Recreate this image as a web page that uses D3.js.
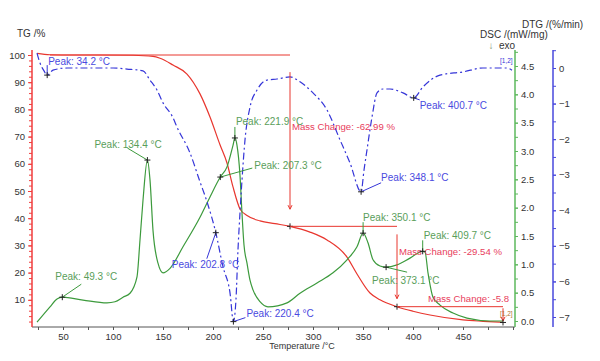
<!DOCTYPE html>
<html>
<head>
<meta charset="utf-8">
<script src="https://cdn.jsdelivr.net/npm/d3@7/dist/d3.min.js"></script>
<style>
  body { margin: 0; background: #fff; }
  svg { font-family: Arial, "Liberation Sans", sans-serif; }
  .tick text { fill: #333; font-size: 9.5px; }
</style>
</head>
<body>
<div id="chart"></div>
<script>

// TG curve (mass %, vs temperature °C)
const tgTemps  = [24, 37, 60, 87, 120, 140, 147, 160, 174, 187, 197, 207, 214, 220, 227, 234, 247, 262, 277, 297, 314, 334, 344, 357, 367, 384, 400, 417, 450, 470, 490];
const tgValues = [100.6, 100.1, 100.0, 100.0, 99.9, 99.5, 98.8, 96.3, 93.0, 85.7, 77.2, 67.0, 60.3, 51.5, 43.4, 41.0, 39.0, 38.0, 37.0, 34.9, 32.0, 25.7, 19.5, 12.5, 10.0, 7.45, 5.8, 4.4, 2.6, 2.1, 1.7];

// DSC curve (mW/mg)
const dscTemps  = [24, 37, 44, 49.3, 70, 94, 102, 110, 117, 124, 127, 130, 134.4, 137, 140, 145, 150, 157, 170, 187, 197, 207.3, 214, 220, 221.9, 224, 227, 229, 231, 234, 237, 240, 247, 255, 274, 287, 304, 320, 334, 344, 350.1, 355, 360, 367, 373.1, 384, 397, 409.7, 412, 415, 420, 427, 440, 454, 477, 490];
const dscValues = [-0.02, 0.25, 0.39, 0.42, 0.37, 0.32, 0.34, 0.42, 0.49, 0.78, 1.43, 2.13, 2.84, 2.49, 1.6, 1.02, 0.85, 0.93, 1.31, 1.83, 2.19, 2.54, 2.72, 3.10, 3.23, 3.1, 2.57, 1.9, 1.34, 1.02, 0.72, 0.55, 0.34, 0.25, 0.32, 0.49, 0.67, 0.85, 1.08, 1.31, 1.55, 1.38, 1.08, 0.97, 0.95, 0.99, 1.11, 1.23, 1.22, 0.85, 0.42, 0.28, 0.14, 0.05, 0.0, 0.0];

// DTG curve (%/min)
const dtgTemps  = [24, 27, 31, 34.2, 40, 54, 74, 100, 114, 130, 137, 144, 150, 160, 164, 177, 187, 194, 202.8, 210, 217, 220.4, 223, 225, 227, 229, 232, 237, 244, 254, 264, 277, 287, 300, 314, 327, 337, 348.1, 351, 354, 359, 364, 370, 377, 390, 400.7, 410, 427, 450, 470, 494, 499];
const dtgValues = [0.42, 0.14, -0.08, -0.2, -0.06, 0, 0, 0, -0.03, -0.08, -0.34, -0.62, -0.98, -1.4, -1.66, -2.39, -3.2, -3.76, -4.63, -5.59, -6.32, -7.13, -6.5, -5.1, -4.07, -3.15, -2.02, -1.1, -0.62, -0.34, -0.31, -0.25, -0.39, -0.7, -1.18, -2.02, -2.67, -3.48, -2.87, -2.3, -1.38, -0.7, -0.59, -0.59, -0.7, -0.84, -0.53, -0.2, -0.11, 0, 0, -0.06];

// peaks
const dscPeakTemps  = [49.3, 134.4, 207.3, 221.9, 350.1, 373.1, 409.7];
const dscPeakValues = [0.42, 2.84, 2.54, 3.23, 1.55, 0.95, 1.23];
const dtgPeakTemps  = [34.2, 202.8, 220.4, 348.1, 400.7];
const dtgPeakValues = [-0.2, -4.63, -7.13, -3.48, -0.84];

// mass change steps (last label is cut off by the axis in the original)
const massStepTemps  = [277, 384, 490];
const massLevels     = [100, 37.01, 7.47, 1.67];
const massChangeText = ['Mass Change: -62.99 %', 'Mass Change: -29.54 %', 'Mass Change: -5.8'];

// axis ticks
const tempTicks = [50, 100, 150, 200, 250, 300, 350, 400, 450];
const tgTicks   = [10, 20, 30, 40, 50, 60, 70, 80, 90, 100];
const dscTicks  = [0, 0.5, 1, 1.5, 2, 2.5, 3, 3.5, 4, 4.5];
const dtgTicks  = [-7, -6, -5, -4, -3, -2, -1, 0];

// label layout (offsets from the peak point, px)
const dscLabelPos  = [[-7, -21, 19, -13], [-53, -16, -20, -12], [34, -12, 32, -9], [1, -16, 0, -11], [0, -16, 0, -11], [-14, 13, 21, 5], [1, -16, 0, -11]];
const dtgLabelPos  = [[1, -14, 0, -10], [-44, 32, -9, 26], [13, -8, 12, -4], [20, -14, 20, -9], [6, 8, 6, 2]];
const massLabelPos = [[2, -14], [2, -15], [-75, -8]];

const width = 600;
const height = 361;
const plot = { left: 32, right: 515, top: 50, bottom: 327 };

const colors = {
  tg: '#e8362e',
  tgAxis: '#f03c3c',
  mass: '#e8405c',
  dsc: '#3c9a3c',
  dscText: '#5a9e5a',
  dscAxis: '#5cb85c',
  dtg: '#3535d8',
  dtgText: '#4a4ae0',
  dtgAxis: '#4848dd'
};

const svg = d3.select('#chart')
  .append('svg')
  .attr('width', width)
  .attr('height', height);

const x = d3.scaleLinear().domain([19, 502]).range([plot.left, plot.right]);
const yTG = d3.scaleLinear().domain([0, 100]).range([327, 55]);
const yDSC = d3.scaleLinear().domain([0, 4.5]).range([321, 66]);
const yDTG = d3.scaleLinear().domain([-7, 0]).range([317, 68]);

svg.append('clipPath')
  .attr('id', 'plot-clip')
  .append('rect')
  .attr('x', plot.left)
  .attr('y', plot.top)
  .attr('width', plot.right - plot.left - 1)
  .attr('height', plot.bottom - plot.top);

// Axes

function styleAxis(g, color) {
  g.select('.domain').remove();
  g.selectAll('.tick line').attr('stroke', color);
}

function minorTicks(from, to, step) {
  const out = [];
  for (let v = from; v <= to + 1e-9; v += step) out.push(+v.toFixed(3));
  return out;
}

// bottom
svg.append('g')
  .attr('transform', `translate(0, ${plot.bottom})`)
  .call(d3.axisBottom(x).tickValues(minorTicks(25, 500, 25)).tickSize(3).tickFormat(''))
  .call(styleAxis, '#555');
svg.append('g')
  .attr('transform', `translate(0, ${plot.bottom})`)
  .call(d3.axisBottom(x).tickValues(tempTicks).tickSize(3).tickPadding(3))
  .call(styleAxis, '#555');
svg.append('line')
  .attr('x1', plot.left).attr('x2', plot.right)
  .attr('y1', plot.bottom).attr('y2', plot.bottom)
  .attr('stroke', '#555');

// left TG
svg.append('g')
  .attr('transform', `translate(${plot.left}, 0)`)
  .call(d3.axisLeft(yTG).tickValues(minorTicks(2, 100, 2)).tickSize(3).tickFormat(''))
  .call(styleAxis, colors.tgAxis);
svg.append('g')
  .attr('transform', `translate(${plot.left}, 0)`)
  .call(d3.axisLeft(yTG).tickValues(tgTicks).tickSize(4).tickPadding(3))
  .call(styleAxis, colors.tgAxis);
svg.append('line')
  .attr('x1', plot.left).attr('x2', plot.left)
  .attr('y1', plot.top).attr('y2', plot.bottom)
  .attr('stroke', colors.tgAxis).attr('stroke-width', 1.5);

// right DSC
svg.append('g')
  .attr('transform', `translate(${plot.right}, 0)`)
  .call(d3.axisRight(yDSC).tickValues(minorTicks(0, 4.75, 0.25)).tickSize(3).tickFormat(''))
  .call(styleAxis, colors.dscAxis);
svg.append('g')
  .attr('transform', `translate(${plot.right}, 0)`)
  .call(d3.axisRight(yDSC).tickValues(dscTicks).tickSize(3).tickPadding(3).tickFormat(d3.format('.1f')))
  .call(styleAxis, colors.dscAxis);
svg.append('line')
  .attr('x1', plot.right).attr('x2', plot.right)
  .attr('y1', plot.top).attr('y2', plot.bottom)
  .attr('stroke', colors.dscAxis).attr('stroke-width', 1.5);

// right DTG
const dtgAxisX = 553;
svg.append('g')
  .attr('transform', `translate(${dtgAxisX}, 0)`)
  .call(d3.axisRight(yDTG).tickValues(minorTicks(-7, 0.5, 0.5)).tickSize(3).tickFormat(''))
  .call(styleAxis, colors.dtgAxis);
svg.append('g')
  .attr('transform', `translate(${dtgAxisX}, 0)`)
  .call(d3.axisRight(yDTG).tickValues(dtgTicks).tickSize(3).tickPadding(3).tickFormat(d3.format('d')))
  .call(styleAxis, colors.dtgAxis);
svg.append('line')
  .attr('x1', dtgAxisX).attr('x2', dtgAxisX)
  .attr('y1', plot.top).attr('y2', plot.bottom)
  .attr('stroke', colors.dtgAxis).attr('stroke-width', 1.5);

// Axis titles

function title(txt, xPos, yPos, anchor, size) {
  return svg.append('text')
    .attr('x', xPos).attr('y', yPos)
    .attr('text-anchor', anchor || 'start')
    .attr('dominant-baseline', 'central')
    .attr('font-size', size || 10)
    .attr('fill', '#333')
    .text(txt);
}

title('TG /%', 17, 33);
title('DTG /(%/min)', 522, 24);
title('DSC /(mW/mg)', 480, 34);
title('exo', 499, 45);
title('Temperature /°C', 302, 346, 'middle', 9);
svg.append('text')
  .attr('x', 491).attr('y', 45)
  .attr('text-anchor', 'middle')
  .attr('dominant-baseline', 'central')
  .attr('font-size', 10)
  .attr('fill', '#8a9a7a')
  .text('↓');

// Curves

const curves = svg.append('g').attr('clip-path', 'url(#plot-clip)');

function drawCurve(temps, values, yScale, color, dash) {
  const line = d3.line()
    .x(d => x(d[0]))
    .y(d => yScale(d[1]))
    .curve(d3.curveMonotoneX);
  curves.append('path')
    .datum(d3.zip(temps, values))
    .attr('d', line)
    .attr('fill', 'none')
    .attr('stroke', color)
    .attr('stroke-width', 1.2)
    .attr('stroke-dasharray', dash || null);
}

drawCurve(tgTemps, tgValues, yTG, colors.tg);
drawCurve(dscTemps, dscValues, yDSC, colors.dsc);
drawCurve(dtgTemps, dtgValues, yDTG, colors.dtg, '7,3,2,3');

// Mass change annotations

const ann = svg.append('g').attr('clip-path', 'url(#plot-clip)');

function cross(g, px, py) {
  g.append('path')
    .attr('d', `M${px - 3},${py}H${px + 3}M${px},${py - 3}V${py + 3}`)
    .attr('stroke', '#222')
    .attr('stroke-width', 1);
}

massStepTemps.forEach((t, i) => {
  const upper = massLevels[i];
  const lower = massLevels[i + 1];
  const gap = (upper - lower) * 0.1;
  const startT = i === 0 ? 37 : massStepTemps[i - 1];
  ann.append('line')
    .attr('x1', x(startT)).attr('x2', x(t))
    .attr('y1', yTG(upper)).attr('y2', yTG(upper))
    .attr('stroke', colors.tg).attr('stroke-width', 1);
  ann.append('line')
    .attr('x1', x(t)).attr('x2', x(t))
    .attr('y1', yTG(upper - gap)).attr('y2', yTG(lower + gap))
    .attr('stroke', colors.tg).attr('stroke-width', 1);
  ann.append('path')
    .attr('d', `M${x(t) - 2},${yTG(lower + gap) - 4}L${x(t)},${yTG(lower + gap)}L${x(t) + 2},${yTG(lower + gap) - 4}`)
    .attr('fill', 'none')
    .attr('stroke', colors.tg);
  cross(ann, x(t), yTG(lower));
  const mid = (yTG(upper - gap) + yTG(lower + gap)) / 2;
  ann.append('text')
    .attr('x', x(t) + massLabelPos[i][0])
    .attr('y', (i === 2 ? yTG(upper) : mid) + massLabelPos[i][1])
    .attr('dominant-baseline', 'central')
    .attr('font-size', 9.6)
    .attr('fill', colors.mass)
    .text(massChangeText[i]);
});

// Peak labels

function drawPeaks(temps, values, yScale, layout, lineColor, textColor) {
  temps.forEach((t, i) => {
    const px = x(t);
    const py = yScale(values[i]);
    const [tx, ty, lx, ly] = layout[i];
    svg.append('line')
      .attr('x1', px).attr('y1', py)
      .attr('x2', px + lx).attr('y2', py + ly)
      .attr('stroke', lineColor).attr('stroke-width', 1);
    cross(svg, px, py);
    svg.append('text')
      .attr('x', px + tx).attr('y', py + ty)
      .attr('dominant-baseline', 'central')
      .attr('font-size', 10)
      .attr('fill', textColor)
      .text(`Peak: ${t.toFixed(1)} °C`);
  });
}

drawPeaks(dscPeakTemps, dscPeakValues, yDSC, dscLabelPos, colors.dsc, colors.dscText);
drawPeaks(dtgPeakTemps, dtgPeakValues, yDTG, dtgLabelPos, colors.dtg, colors.dtgText);

// curve tags
svg.append('text')
  .attr('x', 500).attr('y', 63)
  .attr('font-size', 6.5)
  .attr('fill', colors.dtg)
  .text('[1,2]');
svg.append('text')
  .attr('x', 500).attr('y', 316)
  .attr('font-size', 6.5)
  .attr('fill', '#b07030')
  .text('[1,2]');

</script>
</body>
</html>
